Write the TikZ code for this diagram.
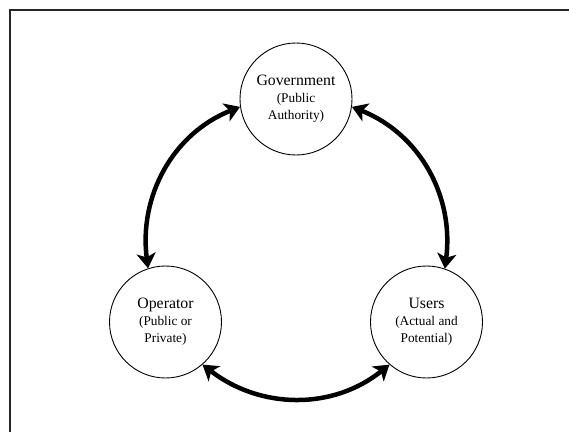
\documentclass[tikz,border=0pt]{standalone}
\usepackage{fontspec}
\setmainfont{Liberation Serif}
\usetikzlibrary{arrows.meta}

\tikzset{
  party/.style={circle, draw=black, line width=0.9pt, minimum size=112pt,
    inner sep=0pt, align=center, fill=white,
    font=\fontsize{13.3}{17}\selectfont},
  link/.style={line width=4.5pt, black,
    {Stealth[length=15pt,width=19pt,inset=4pt]}-{Stealth[length=15pt,width=19pt,inset=4pt]}},
  frame/.style={line width=1.3pt, black!85}
}
\newcommand{\partyname}[1]{{\fontsize{15.8}{17.5}\selectfont #1}}

\begin{document}
\begin{tikzpicture}[x=1pt,y=1pt]
  \useasboundingbox (0,0) rectangle (569,432);
  \fill[white] (0,0) rectangle (569,432);

  % frame: top and left edges
  \draw[frame] (10,0) -- (10,422) -- (569,422);

  % the three parties
  \node[party] (gov) at (296,333) {\partyname{Government}\\(Public\\Authority)};
  \node[party] (op)  at (165.5,110) {\partyname{Operator}\\(Public or\\Private)};
  \node[party] (usr) at (426.5,110) {\partyname{Users}\\(Actual and\\Potential)};

  % two-way relations
  \draw[link] (gov.188) to[out=201.7, in=97.3] (op.108.6);
  \draw[link] (gov.-8) to[out=-21.7, in=82.7] (usr.71.4);
  \draw[link] (op.-49.5) to[out=-37.7, in=218.8] (usr.229.7);
\end{tikzpicture}
\end{document}
